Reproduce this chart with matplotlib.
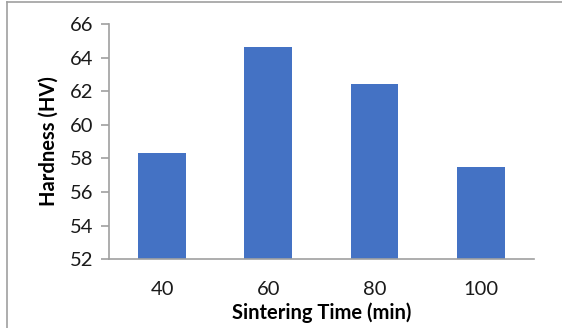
import matplotlib
matplotlib.use("Agg")
import matplotlib.pyplot as plt
from matplotlib.lines import Line2D

# data
times = ["40", "60", "80", "100"]
hardness = [58.3, 64.6, 62.4, 57.5]
yticks = [52, 54, 56, 58, 60, 62, 64, 66]

plt.rcParams['font.family'] = ['Lato', 'DejaVu Sans']

fig = plt.figure(figsize=(5.62, 3.28), dpi=100)
ax = fig.add_axes([0.194, 0.21, 0.756, 0.717])

ax.bar(range(len(times)), hardness, width=0.45, color="#4472C4")

ax.set_xlim(-0.5, len(times) - 0.5)
ax.set_ylim(52, 66)
ax.set_yticks(yticks)
ax.set_xticks(range(len(times)))
ax.set_xticklabels(times)

for s in ["top", "right"]:
    ax.spines[s].set_visible(False)
for s in ["left", "bottom"]:
    ax.spines[s].set_color("#a0a0a0")
    ax.spines[s].set_linewidth(1.2)

ax.tick_params(axis="y", length=6, width=1.2, color="#a0a0a0", labelsize=14.5,
               labelcolor="#1a1a1a", pad=5)
ax.tick_params(axis="x", length=0, labelsize=14.5, labelcolor="#1a1a1a", pad=16)

ax.set_ylabel("Hardness (HV)", fontsize=14.5, fontweight="bold", labelpad=8)
ax.set_xlabel("Sintering Time (min)", fontsize=14.5, fontweight="bold", labelpad=3)

# outer frame (top and left edges visible in the reference)
fig.add_artist(Line2D([7 / 562, 7 / 562], [0, 1 - 2 / 328], transform=fig.transFigure,
                      color="#a0a0a0", lw=1.2))
fig.add_artist(Line2D([7 / 562, 1], [1 - 2 / 328, 1 - 2 / 328], transform=fig.transFigure,
                      color="#a0a0a0", lw=1.2))

fig.savefig("out.png", dpi=100)
